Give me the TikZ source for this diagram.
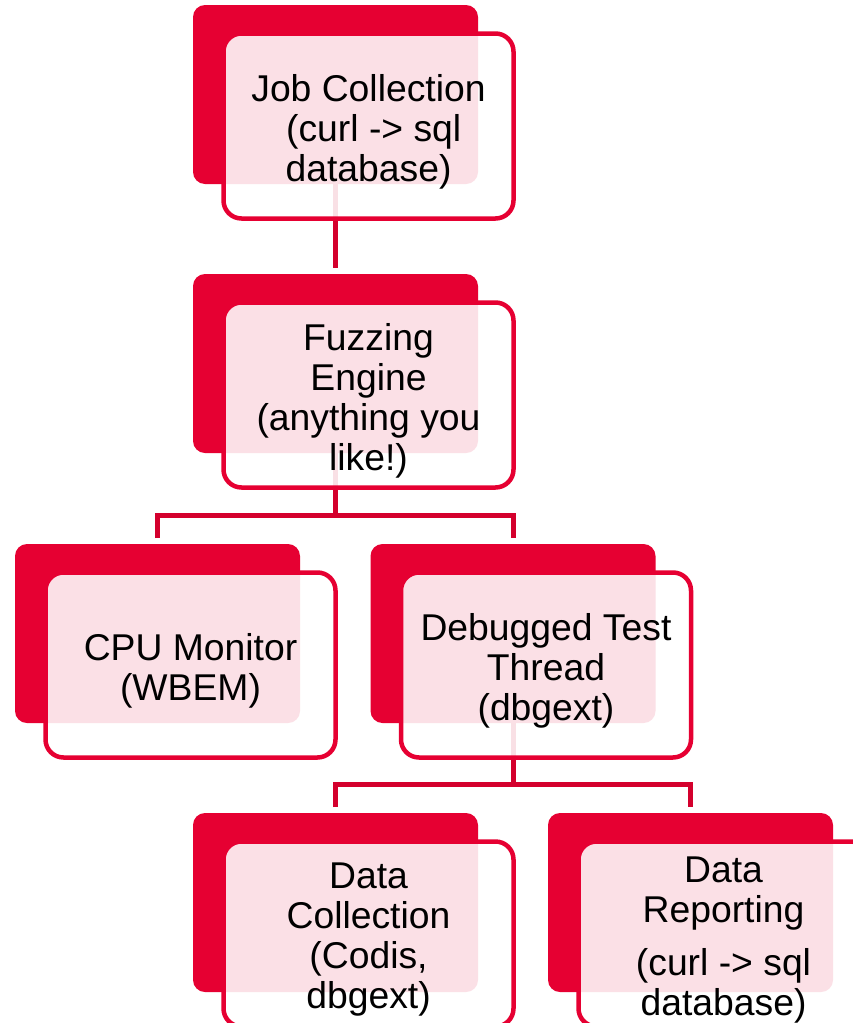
\documentclass[tikz,border=0pt]{standalone}
\usepackage{fontspec}
\setmainfont{Liberation Sans}
\definecolor{boxred}{RGB}{230,0,50}
\definecolor{linkred}{RGB}{212,0,45}
\begin{document}
\begin{tikzpicture}[x=1pt,y=-1pt,
  back/.style={fill=boxred, rounded corners=12pt, minimum width=285pt,
    minimum height=179pt, inner sep=0pt, outer sep=0pt},
  front/.style={draw=boxred, line width=4.5pt, fill=white, fill opacity=0.88,
    rounded corners=18pt, minimum width=290pt, minimum height=185pt,
    inner sep=0pt},
  label/.style={align=center, text=black, inner sep=0pt,
    font=\fontsize{37.3}{40}\selectfont},
  link/.style={draw=linkred, line width=5pt}]
\useasboundingbox (0,0) rectangle (853,1023);
\fill[white] (0,0) rectangle (853,1023);
\clip (0,0) rectangle (853,1023);

% back plates (positions only; drawn later, above the connectors)
\path (335.5,94.5)  node[back, fill=none] (b1) {}
      (335.5,363.5) node[back, fill=none] (b2) {}
      (157.5,633.5) node[back, fill=none] (b3) {}
      (513,633.5)   node[back, fill=none] (b4) {}
      (335.5,902.5) node[back, fill=none] (b5) {}
      (690.5,902.5) node[back, fill=none] (b6) {};

% connectors
\draw[link] (b1.south) -- ([yshift=6pt]b2.north);
\draw[link] (b2.south) -- ++(0,62) coordinate (j1);
\draw[link] ([yshift=6pt]b3.north) |- (j1) -| ([yshift=6pt]b4.north);
\draw[link] (b4.south) -- ++(0,61) coordinate (j2);
\draw[link] ([yshift=6pt]b5.north) |- (j2) -| ([yshift=6pt]b6.north);

% boxes: solid plate behind a translucent framed card
\node[back] at (b1) {};
\node[front] (f1) at (368.5,126) {};
\node[back] at (b2) {};
\node[front] (f2) at (368.5,395) {};
\node[back] at (b3) {};
\node[front] (f3) at (190.5,665) {};
\node[back] at (b4) {};
\node[front] (f4) at (546,665) {};
\node[back] at (b5) {};
\node[front] (f5) at (368.5,934) {};
\node[back] at (b6) {};
\node[front] (f6) at (723.5,934) {};

% card texts
\node[label] (t1) at ([yshift=-6pt]f1.center) {Job Collection\\\hspace*{0.28em}(curl -> sql\\database)};
\node[label] (t2) at ([yshift=-6pt]f2.center) {Fuzzing\\Engine\\(anything you\\like!)};
\node[label] (t3) at ([yshift=-6pt]f3.center) {CPU Monitor\\(WBEM)};
\node[label] (t4) at ([yshift=-6pt]f4.center) {Debugged Test\\Thread\\(dbgext)};
\node[label] (t5) at ([yshift=-6pt]f5.center) {Data\\Collection\\(Codis,\\dbgext)};
\node[label] (t6) at ([yshift=-6pt]f6.center) {Data\\Reporting\\[13pt](curl -> sql\\database)};
\end{tikzpicture}
\end{document}
